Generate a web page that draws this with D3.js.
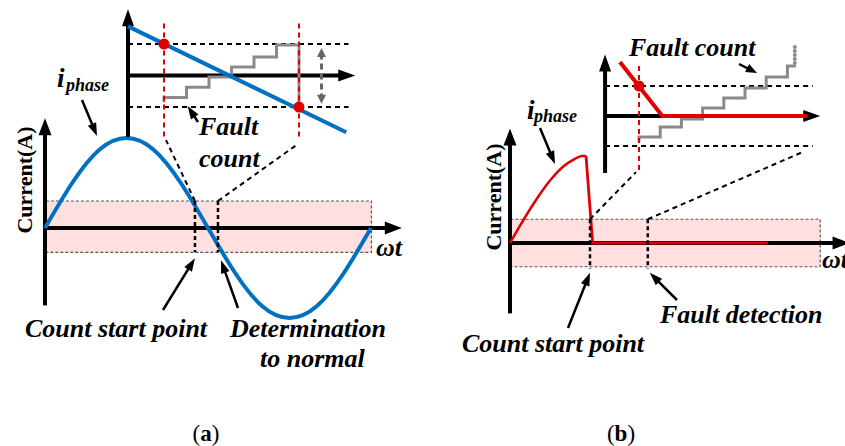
<!DOCTYPE html>
<html>
<head>
<meta charset="utf-8">
<script src="https://cdn.jsdelivr.net/npm/d3@7"></script>
<style>
  body { margin: 0; background: #fff; }
</style>
</head>
<body>
<svg id="canvas" width="845" height="446"></svg>
<script>
// ---- panel (a): normal phase current, one cycle ----
const cycleDeg = [0, 30, 60, 90, 120, 150, 180, 210, 240, 270, 300, 330, 360];
const cycleAmp = [0, 0.5, 0.87, 1, 0.87, 0.5, 0, -0.5, -0.87, -1, -0.87, -0.5, 0];
const bandA = [0.3, -0.27];          // threshold band (upper, lower)
const countStartA = 165.6;           // deg
const normalA = 191;                 // deg

// inset (a): zoomed current and fault counter
const zoomLineA_t = [-1.6, 8.1];
const zoomLineA_i = [1.56, -1.80];
const countLevelsA = [-0.7, -0.37, -0.05, 0.27, 0.59, 0.97];

// ---- panel (b): fault current ----
const riseDeg = [0, 15, 30, 45, 60, 72, 81, 85.5];
const riseAmp = [0, 0.26, 0.5, 0.71, 0.87, 0.95, 0.99, 0.99];
const dropDeg = [85.5, 93, 290];
const dropAmp = [0.99, 0, 0];
const bandB = [0.27, -0.27];
const countStartB = 90;
const detectB = 155;

// inset (b)
const zoomLineB_t = [-0.9, 1.1, 7.95];
const zoomLineB_i = [1.8, 0, 0];
const countLevelsB = [-0.7, -0.37, -0.1, 0.27, 0.6, 0.93, 1.3, 1.67];

const BLUE = '#0070c0', RED = '#e00000', GREY = '#8a8a8a', PINK = '#ffdfdf';
const FONT = "'Liberation Serif', 'Times New Roman', Times, serif";

const svg = d3.select('#canvas');
svg.append('rect').attr('width', 845).attr('height', 446).attr('fill', '#fff');

// line with a filled arrow head at (x2,y2); optional head at start too
const arrow = (g, x1, y1, x2, y2, o = {}) => {
    const len = o.len || 14, half = o.half || 5, color = o.color || '#000';
    const a = Math.atan2(y2 - y1, x2 - x1);
    const cos = Math.cos(a), sin = Math.sin(a);
    const head = (tx, ty, dir) => {
        const bx = tx - dir * len * cos, by = ty - dir * len * sin;
        const px = -sin * half, py = cos * half;
        g.append('path')
            .attr('d', `M${tx},${ty}L${bx + px},${by + py}L${bx - px},${by - py}Z`)
            .attr('fill', color);
    };
    const sx = o.both ? x1 + len * 0.6 * cos : x1, sy = o.both ? y1 + len * 0.6 * sin : y1;
    g.append('line')
        .attr('x1', sx).attr('y1', sy)
        .attr('x2', x2 - len * 0.6 * cos).attr('y2', y2 - len * 0.6 * sin)
        .attr('stroke', color).attr('stroke-width', o.width || 2.5)
        .attr('stroke-dasharray', o.dash || null);
    head(x2, y2, 1);
    if (o.both) head(x1, y1, -1);
};

const dashed = (g, x1, y1, x2, y2, color, width, dash) => g.append('line')
    .attr('x1', x1).attr('y1', y1).attr('x2', x2).attr('y2', y2)
    .attr('stroke', color).attr('stroke-width', width).attr('stroke-dasharray', dash);

const label = (g, x, y, txt, size, anchor = 'start', italic = true) => g.append('text')
    .attr('x', x).attr('y', y)
    .style('font-family', FONT).style('font-size', size + 'px')
    .style('font-weight', 'bold').style('font-style', italic ? 'italic' : 'normal')
    .attr('text-anchor', anchor).text(txt);

const stairs = (levels, endLevel) => {
    const pts = [[0, levels[0] - 0.15]];
    levels.forEach((v, i) => { pts.push([i, v]); pts.push([i + 1, v]); });
    if (endLevel !== undefined) pts.push([levels.length, endLevel]);
    return pts;
};

// ================= PANEL (a) =================
const ga = svg.append('g');
const xA = d3.scaleLinear().domain([0, 360]).range([45, 371]);
const yA = d3.scaleLinear().domain([-1, 1]).range([318, 138]);

ga.append('rect')
    .attr('x', xA(1)).attr('y', yA(bandA[0]))
    .attr('width', xA(360.5) - xA(1)).attr('height', yA(bandA[1]) - yA(bandA[0]))
    .attr('fill', PINK).attr('stroke', '#555').attr('stroke-width', 1.2).attr('stroke-dasharray', '3,2');

arrow(ga, xA(0), yA(-0.86), xA(0), yA(1.22), { width: 4, len: 17, half: 6.5 });
arrow(ga, xA(0), yA(0), xA(394), yA(0), { width: 4, len: 17, half: 6.5 });

ga.append('path')
    .datum(cycleDeg.map((d, i) => [d, cycleAmp[i]]))
    .attr('d', d3.line().x(d => xA(d[0])).y(d => yA(d[1])).curve(d3.curveNatural))
    .attr('fill', 'none').attr('stroke', BLUE).attr('stroke-width', 4);

[countStartA, normalA].forEach(d =>
    dashed(ga, xA(d), yA(bandA[0]), xA(d), yA(bandA[1]), '#000', 2.5, '4,3'));

// inset (a)
const xiA = d3.scaleLinear().domain([0, 6]).range([164, 299]);
const yiA = d3.scaleLinear().domain([-1, 1]).range([107, 44]);

dashed(ga, xA(countStartA), yA(bandA[0]), xiA(0.09), yiA(-2.05), '#000', 2, '5,4');
dashed(ga, xA(normalA), yA(bandA[0]), xiA(5.9), yiA(-2.2), '#000', 2, '5,4');

arrow(ga, xiA(-1.6), yiA(-1.95), xiA(-1.6), yiA(2.1), { width: 4, len: 17, half: 6 });
arrow(ga, xiA(-1.6), yiA(0), xiA(8.5), yiA(0), { width: 4, len: 17, half: 6 });
[1, -1].forEach(v => dashed(ga, xiA(-1.6), yiA(v), xiA(8.2), yiA(v), '#000', 2, '5,4'));

ga.append('path')
    .datum(stairs(countLevelsA, -1))
    .attr('d', d3.line().x(d => xiA(d[0])).y(d => yiA(d[1])))
    .attr('fill', 'none').attr('stroke', GREY).attr('stroke-width', 3);

ga.append('path')
    .datum(zoomLineA_t.map((t, i) => [t, zoomLineA_i[i]]))
    .attr('d', d3.line().x(d => xiA(d[0])).y(d => yiA(d[1])))
    .attr('stroke', BLUE).attr('stroke-width', 4);

[0, 6].forEach(t => dashed(ga, xiA(t), yiA(1.65), xiA(t), yiA(-1.95), RED, 2, '5,4'));
[[0, 1], [6, -1]].forEach(p => ga.append('circle')
    .attr('cx', xiA(p[0])).attr('cy', yiA(p[1])).attr('r', 5.5).attr('fill', RED));

arrow(ga, xiA(7.0), yiA(0.87), xiA(7.0), yiA(-0.9), { width: 3, len: 9, half: 4.5, color: '#666', dash: '6,4', both: true });

// labels (a)
label(ga, 57, 87, 'i', 27);
label(ga, 66, 91, 'phase', 18);
arrow(ga, 82, 100, 97, 136, { width: 2.5, len: 13, half: 4.5 });
label(ga, 199, 135, 'Fault', 26);
label(ga, 199, 167, 'count', 26);
arrow(ga, 198, 122, xiA(1.05), yiA(-0.97), { width: 2.5, len: 13, half: 4.5 });
label(ga, 376, 256, 'ωt', 26);
label(ga, 25, 337, 'Count start point', 26);
arrow(ga, 163, 310, xA(countStartA), yA(bandA[1]) + 6, { width: 2.5, len: 13, half: 4.5 });
label(ga, 230, 337, 'Determination', 26);
label(ga, 260, 367, 'to normal', 26);
arrow(ga, 238, 308, xA(normalA) + 3, yA(bandA[1]) + 8, { width: 2.5, len: 13, half: 4.5 });
label(ga, 0, 0, 'Current(A)', 22, 'middle', false)
    .attr('transform', 'translate(32,180) rotate(-90)');

// ================= PANEL (b) =================
const gb = svg.append('g');
const xB = d3.scaleLinear().domain([0, 360]).range([510, 830]);
const yB = d3.scaleLinear().domain([-1, 1]).range([331, 155]);

gb.append('rect')
    .attr('x', xB(0.5)).attr('y', yB(bandB[0]))
    .attr('width', xB(349) - xB(0.5)).attr('height', yB(bandB[1]) - yB(bandB[0]))
    .attr('fill', PINK).attr('stroke', '#555').attr('stroke-width', 1.2).attr('stroke-dasharray', '3,2');

arrow(gb, xB(0), yB(-0.8), xB(0), yB(1.3), { width: 4, len: 17, half: 6.5 });
arrow(gb, xB(0), yB(0), xB(382), yB(0), { width: 4, len: 17, half: 6.5 });

gb.append('path')
    .datum(riseDeg.map((d, i) => [d, riseAmp[i]]))
    .attr('d', d3.line().x(d => xB(d[0])).y(d => yB(d[1])).curve(d3.curveMonotoneX))
    .attr('fill', 'none').attr('stroke', RED).attr('stroke-width', 2.5);
gb.append('path')
    .datum(dropDeg.map((d, i) => [d, dropAmp[i]]))
    .attr('d', d3.line().x(d => xB(d[0])).y(d => yB(d[1])))
    .attr('fill', 'none').attr('stroke', RED).attr('stroke-width', 2.8);

[countStartB, detectB].forEach(d =>
    dashed(gb, xB(d), yB(bandB[0]), xB(d), yB(bandB[1]) + 2, '#000', 2.5, '4,3'));

// inset (b)
const xiB = d3.scaleLinear().domain([0, 8]).range([639, 808.6]);
const yiB = d3.scaleLinear().domain([-1, 1]).range([146, 86]);

dashed(gb, xB(countStartB), yB(bandB[0]), xiB(-0.14), yiB(-1.87), '#000', 2, '5,4');
dashed(gb, xB(detectB), yB(bandB[0]), xiB(7.72), yiB(-1.2), '#000', 2, '5,4');

arrow(gb, xiB(-1.6), yiB(-1.9), xiB(-1.6), yiB(2.05), { width: 4, len: 17, half: 6 });
arrow(gb, xiB(-1.6), yiB(0), xiB(8.55), yiB(0), { width: 4, len: 17, half: 6 });
[1, -1].forEach(v => dashed(gb, xiB(-1.6), yiB(v), xiB(8.2), yiB(v), '#000', 2, '5,4'));

gb.append('path')
    .datum(stairs(countLevelsB).slice(0, -1).concat([[7.4, countLevelsB[7]]]))
    .attr('d', d3.line().x(d => xiB(d[0])).y(d => yiB(d[1])))
    .attr('fill', 'none').attr('stroke', GREY).attr('stroke-width', 3);
gb.append('line')
    .attr('x1', xiB(7.35)).attr('y1', yiB(countLevelsB[7]) - 3)
    .attr('x2', xiB(7.35)).attr('y2', yiB(2.37))
    .attr('stroke', GREY).attr('stroke-width', 4).attr('stroke-linecap', 'round').attr('stroke-dasharray', '0,4');

gb.append('path')
    .datum(zoomLineB_t.map((t, i) => [t, zoomLineB_i[i]]))
    .attr('d', d3.line().x(d => xiB(d[0])).y(d => yiB(d[1])))
    .attr('fill', 'none').attr('stroke', RED).attr('stroke-width', 4);

dashed(gb, xiB(0), yiB(1.67), xiB(0), yiB(-1.9), RED, 2, '5,4');
gb.append('circle').attr('cx', xiB(0)).attr('cy', yiB(1)).attr('r', 5.5).attr('fill', RED);

// labels (b)
label(gb, 527, 119, 'i', 27);
label(gb, 534, 122, 'phase', 18);
arrow(gb, 540, 128, 555, 164, { width: 2.5, len: 13, half: 4.5 });
label(gb, 629, 56, 'Fault count', 26);
arrow(gb, 739, 64, 757, 73, { width: 2.5, len: 11, half: 4.5 });
label(gb, 822, 268, 'ωt', 26);
label(gb, 462, 352, 'Count start point', 26);
arrow(gb, 568, 328, xB(countStartB), yB(bandB[1]) + 6, { width: 2.5, len: 13, half: 4.5 });
label(gb, 660, 323, 'Fault detection', 26);
arrow(gb, 677, 300, xB(detectB) + 2, yB(bandB[1]) + 6, { width: 2.5, len: 13, half: 4.5 });
label(gb, 0, 0, 'Current(A)', 22, 'middle', false)
    .attr('transform', 'translate(501,197) rotate(-90)');

// captions
const cap = (x, letter) => {
    const t = svg.append('text').attr('x', x).attr('y', 441)
        .style('font-family', FONT).style('font-size', '23px').attr('text-anchor', 'middle');
    t.append('tspan').text('(');
    t.append('tspan').style('font-weight', 'bold').text(letter);
    t.append('tspan').text(')');
};
cap(206, 'a');
cap(621, 'b');
</script>
</body>
</html>
